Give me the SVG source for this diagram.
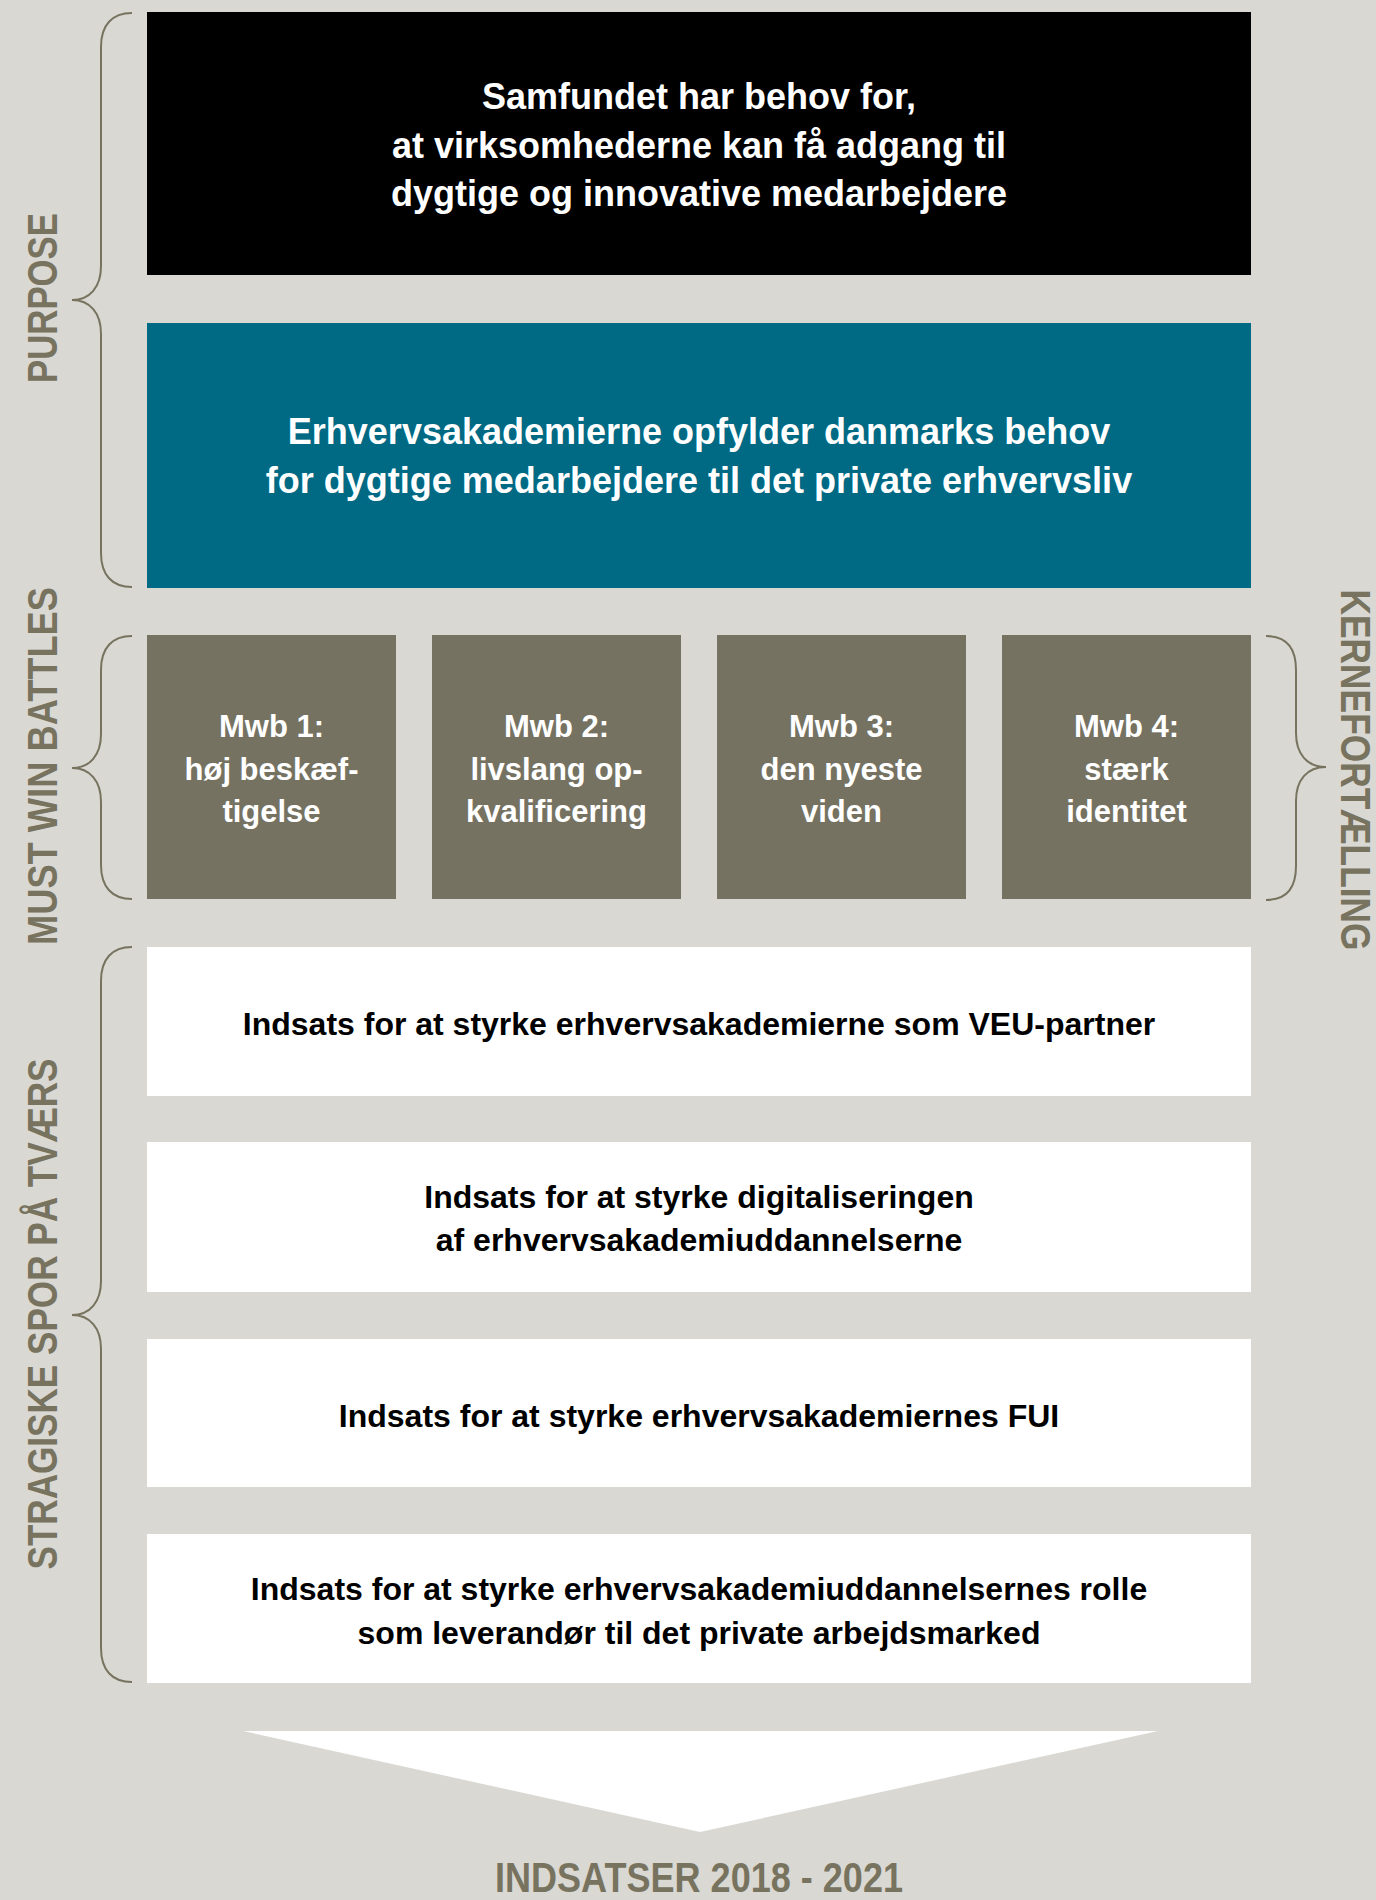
<svg xmlns="http://www.w3.org/2000/svg" width="1376" height="1900" viewBox="0 0 1376 1900">
  <style>
    .box-text { font-family: "Liberation Sans", Arial, sans-serif; font-weight: bold; text-anchor: middle; }
    .w { fill: #ffffff; }
    .k { fill: #000000; }
    .label { font-family: "Liberation Sans", Arial, sans-serif; font-weight: bold; font-size: 42px; fill: #77735f; text-anchor: middle; }
    .brace { fill: none; stroke: #77735f; stroke-width: 2; }
  </style>
  <rect x="0" y="0" width="1376" height="1900" fill="#d9d8d3"/>

  <!-- side labels -->
  <g id="label-purpose">
    <text class="label" transform="translate(57,298) rotate(-90)" textLength="170" lengthAdjust="spacingAndGlyphs">PURPOSE</text>
  </g>
  <g id="label-mwb">
    <text class="label" transform="translate(57,766) rotate(-90)" textLength="358" lengthAdjust="spacingAndGlyphs">MUST WIN BATTLES</text>
  </g>
  <g id="label-spor">
    <text class="label" transform="translate(57,1314) rotate(-90)" textLength="511" lengthAdjust="spacingAndGlyphs">STRAGISKE SPOR PÅ TVÆRS</text>
  </g>
  <g id="label-kerne">
    <text class="label" transform="translate(1341,770) rotate(90)" textLength="361" lengthAdjust="spacingAndGlyphs">KERNEFORTÆLLING</text>
  </g>

  <!-- braces -->
  <g id="connectors">
    <path class="brace" d="M132,13 C112,13 101,25 101,47 L101,266 C101,287 90,300 72,300 C90,300 101,313 101,334 L101,553 C101,575 112,587 132,587"/>
    <path class="brace" d="M132,636 C112,636 101,648 101,670 L101,734 C101,755 90,768 72,768 C90,768 101,781 101,802 L101,865 C101,887 112,899 132,899"/>
    <path class="brace" d="M132,947 C112,947 101,959 101,981 L101,1281 C101,1302 90,1315 72,1315 C90,1315 101,1328 101,1349 L101,1648 C101,1670 112,1682 132,1682"/>
    <path class="brace" d="M1266,636 C1286,636 1296,648 1296,670 L1296,733 C1296,754 1307,767 1326,767 C1307,767 1296,780 1296,801 L1296,866 C1296,888 1286,900 1266,900"/>
  </g>

  <!-- purpose boxes -->
  <g id="node-samfundet">
    <rect x="147" y="12" width="1104" height="263" fill="#000000"/>
    <text class="box-text w" font-size="36"><tspan x="699" y="109">Samfundet har behov for,</tspan><tspan x="699" y="158">at virksomhederne kan få adgang til</tspan><tspan x="699" y="206">dygtige og innovative medarbejdere</tspan></text>
  </g>
  <g id="node-erhvervsakademierne">
    <rect x="147" y="323" width="1104" height="265" fill="#006a85"/>
    <text class="box-text w" font-size="36"><tspan x="699" y="444">Erhvervsakademierne opfylder danmarks behov</tspan><tspan x="699" y="493">for dygtige medarbejdere til det private erhvervsliv</tspan></text>
  </g>

  <!-- must win battles -->
  <g id="node-mwb1">
    <rect x="147" y="635" width="249" height="264" fill="#757262"/>
    <text class="box-text w" font-size="31"><tspan x="271.5" y="737">Mwb 1:</tspan><tspan x="271.5" y="780">høj beskæf-</tspan><tspan x="271.5" y="822">tigelse</tspan></text>
  </g>
  <g id="node-mwb2">
    <rect x="432" y="635" width="249" height="264" fill="#757262"/>
    <text class="box-text w" font-size="31"><tspan x="556.5" y="737">Mwb 2:</tspan><tspan x="556.5" y="780">livslang op-</tspan><tspan x="556.5" y="822">kvalificering</tspan></text>
  </g>
  <g id="node-mwb3">
    <rect x="717" y="635" width="249" height="264" fill="#757262"/>
    <text class="box-text w" font-size="31"><tspan x="841.5" y="737">Mwb 3:</tspan><tspan x="841.5" y="780">den nyeste</tspan><tspan x="841.5" y="822">viden</tspan></text>
  </g>
  <g id="node-mwb4">
    <rect x="1002" y="635" width="249" height="264" fill="#757262"/>
    <text class="box-text w" font-size="31"><tspan x="1126.5" y="737">Mwb 4:</tspan><tspan x="1126.5" y="780">stærk</tspan><tspan x="1126.5" y="822">identitet</tspan></text>
  </g>

  <!-- strategic tracks -->
  <g id="node-veu">
    <rect x="147" y="947" width="1104" height="149" fill="#ffffff"/>
    <text class="box-text k" font-size="32" x="699" y="1035">Indsats for at styrke erhvervsakademierne som VEU-partner</text>
  </g>
  <g id="node-digital">
    <rect x="147" y="1142" width="1104" height="150" fill="#ffffff"/>
    <text class="box-text k" font-size="32"><tspan x="699" y="1208">Indsats for at styrke digitaliseringen</tspan><tspan x="699" y="1251">af erhvervsakademiuddannelserne</tspan></text>
  </g>
  <g id="node-fui">
    <rect x="147" y="1339" width="1104" height="148" fill="#ffffff"/>
    <text class="box-text k" font-size="32" x="699" y="1427">Indsats for at styrke erhvervsakademiernes FUI</text>
  </g>
  <g id="node-leverandoer">
    <rect x="147" y="1534" width="1104" height="149" fill="#ffffff"/>
    <text class="box-text k" font-size="32"><tspan x="699" y="1600">Indsats for at styrke erhvervsakademiuddannelsernes rolle</tspan><tspan x="699" y="1644">som leverandør til det private arbejdsmarked</tspan></text>
  </g>

  <!-- arrow -->
  <g id="node-arrow">
    <polygon points="243,1731 1158,1731 700,1832" fill="#ffffff"/>
    <text class="label" font-size="37" x="699" y="1892" textLength="408" lengthAdjust="spacingAndGlyphs">INDSATSER 2018 - 2021</text>
  </g>
</svg>
